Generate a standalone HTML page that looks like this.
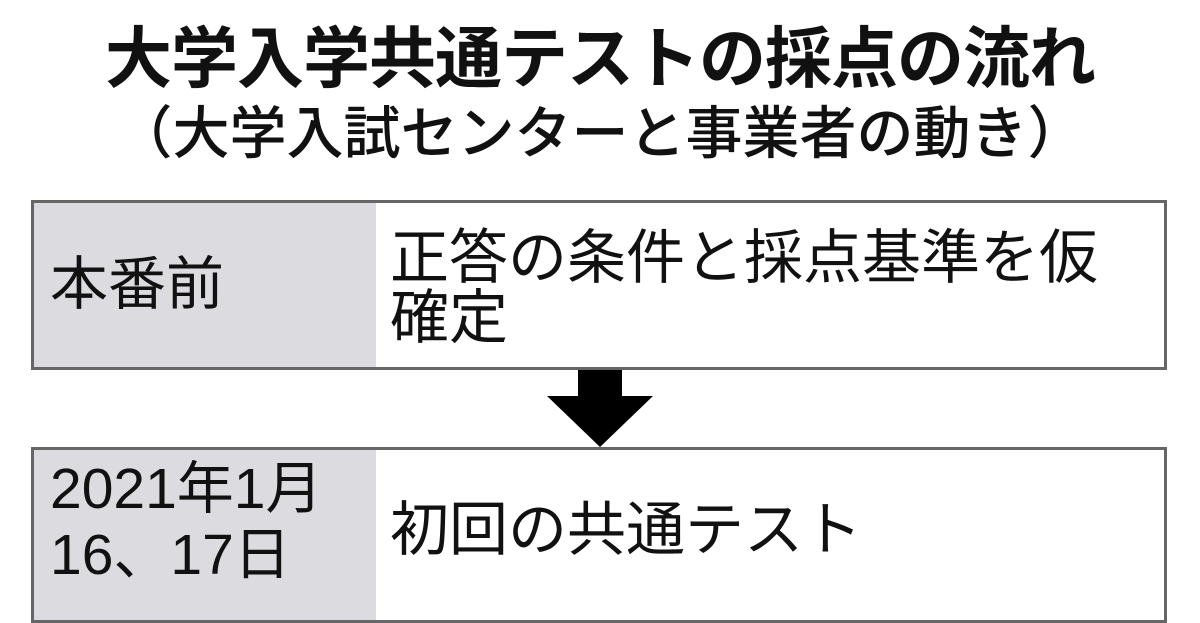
<!DOCTYPE html>
<html><head><meta charset="utf-8"><style>
body{margin:0;width:1200px;height:600px;background:#fff;overflow:hidden;position:relative;font-family:"Liberation Sans","Noto Sans CJK JP",sans-serif;color:#111}
.t{position:absolute;left:0;width:1200px;text-align:center;white-space:nowrap}
.box{position:absolute;left:31px;width:1130px;border:3px solid #666;background:#fff}
.lp{position:absolute;left:0;top:0;bottom:0;width:342px;background:#dcdce0}
.tx{position:absolute;white-space:nowrap;font-size:58px;line-height:60px}
</style></head><body>
<div class="t" style="top:22px;font-size:67px;font-weight:bold;line-height:76px;letter-spacing:-1px">大学入学共通テストの採点の流れ</div>
<div class="t" style="top:102px;font-size:57px;line-height:64px;font-weight:500">（大学入試センターと事業者の動き）</div>
<div class="box" style="top:200px;height:164px">
 <div class="lp"></div>
 <div class="tx" style="left:16px;top:52px">本番前</div>
 <div class="tx" style="left:356px;top:25px;font-size:59px;line-height:60px">正答の条件と採点基準を仮<br>確定</div>
</div>
<svg style="position:absolute;left:0;top:0" width="1200" height="600">
<rect x="578" y="370" width="44" height="28" fill="#000"/>
<polygon points="547,396 653,396 600,447" fill="#000"/>
</svg>
<div class="box" style="top:447px;height:170px">
 <div class="lp"></div>
 <div class="tx" style="left:16px;top:6px;line-height:66px;font-size:57px">2021年1月<br>16、17日</div>
 <div class="tx" style="left:356px;top:50px;font-size:59px">初回の共通テスト</div>
</div>
</body></html>
